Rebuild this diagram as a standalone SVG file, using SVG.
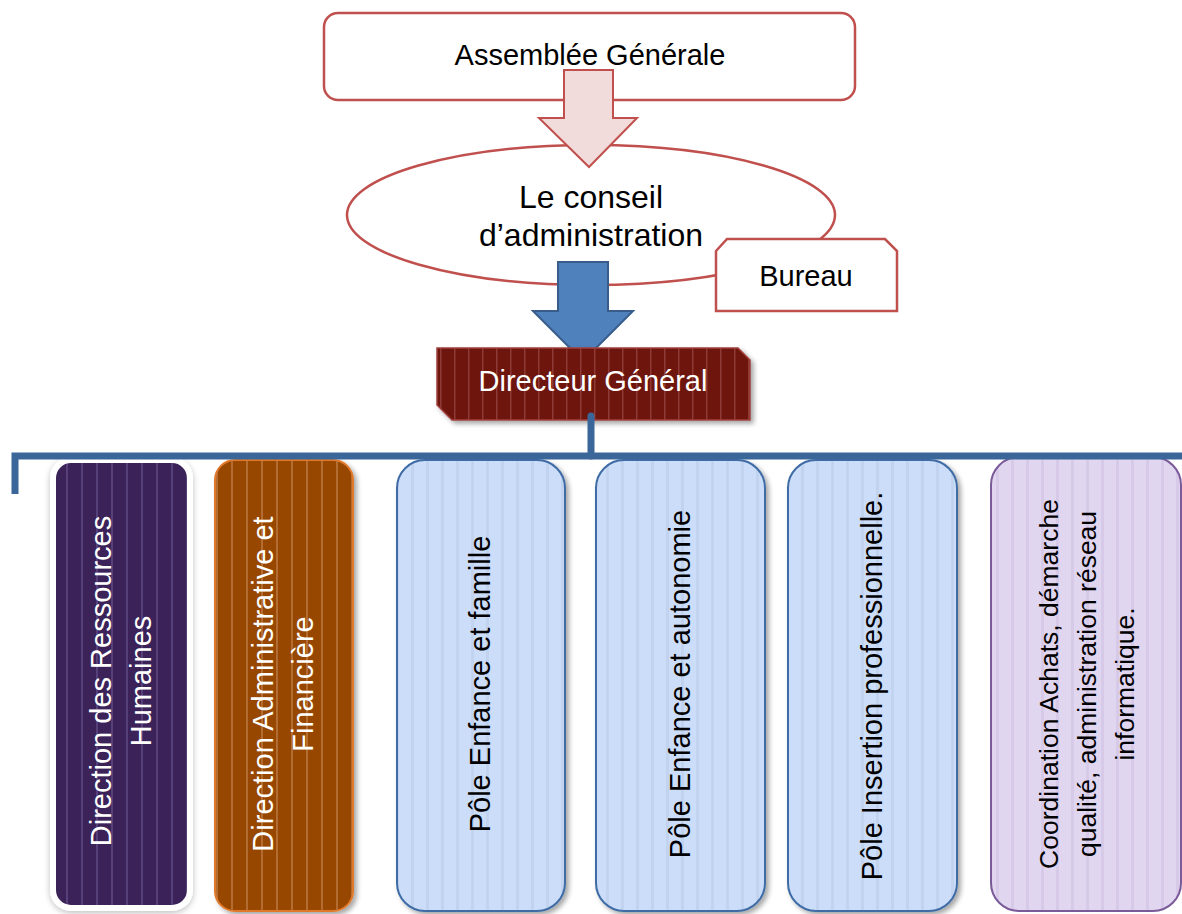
<svg xmlns="http://www.w3.org/2000/svg" width="1182" height="914" viewBox="0 0 1182 914">
<defs>
<style>
text{font-family:"Liberation Sans",Arial,sans-serif;}
.t29{font-size:29px;fill:#000;text-anchor:middle;}
.t26{font-size:26.5px;fill:#000;text-anchor:middle;}
.t32{font-size:32px;fill:#000;text-anchor:middle;}
.w29{font-size:29px;fill:#fff;text-anchor:middle;}
.red{fill:#fff;stroke:#C0504D;stroke-width:2.5;}
.blue{fill:url(#pBlue);stroke:#3F6CA6;stroke-width:2;}
.conn{fill:none;stroke:#3B6699;stroke-width:7;stroke-linejoin:miter;}
</style>
<pattern id="pBlue" patternUnits="userSpaceOnUse" width="15" height="20">
<rect width="15" height="20" fill="#CCDDF9"/><rect x="6" width="3" height="20" fill="#C2D3F0"/>
</pattern>
<pattern id="pLav" patternUnits="userSpaceOnUse" width="15" height="20">
<rect width="15" height="20" fill="#E0D6F0"/><rect x="6" width="3" height="20" fill="#D6CAE8"/>
</pattern>
<pattern id="pPur" patternUnits="userSpaceOnUse" width="15" height="20">
<rect width="15" height="20" fill="#3B2358"/><rect x="6" width="2" height="20" fill="#54407A"/>
</pattern>
<pattern id="pOra" patternUnits="userSpaceOnUse" width="15" height="20">
<rect width="15" height="20" fill="#974706"/><rect x="6" width="2" height="20" fill="#B36C33"/>
</pattern>
<pattern id="pRed" patternUnits="userSpaceOnUse" width="14" height="20">
<rect width="14" height="20" fill="#6E1310"/><rect x="6" width="1.5" height="20" fill="#8E3A37"/>
</pattern>
<filter id="sh" x="-10%" y="-10%" width="130%" height="130%">
<feDropShadow dx="3" dy="3" stdDeviation="2.5" flood-color="#000" flood-opacity="0.35"/>
</filter>
<filter id="glow" x="-15%" y="-10%" width="130%" height="120%">
<feDropShadow dx="0" dy="2" stdDeviation="3" flood-color="#000" flood-opacity="0.25"/>
</filter>
</defs>

<g id="assemblee">
<rect class="red" x="324" y="13" width="531" height="87" rx="14"/>
<text class="t29" x="590" y="65">Assemblée Générale</text>
</g>

<g id="conseil">
<ellipse class="red" cx="591" cy="215" rx="244" ry="70"/>
<text class="t32" x="591" y="208">Le conseil</text>
<text class="t32" x="591" y="246">d’administration</text>
</g>

<g id="bureau">
<path class="red" d="M716,251 L727,239 H885 L897,251 V311 H716 Z"/>
<text class="t29" x="806" y="286">Bureau</text>
</g>

<g id="arrows">
<path d="M564,70 H613 V118 H637 L589,167 L539,118 H564 Z" fill="#F2DCDB" stroke="#C0504D" stroke-width="2"/>
<path d="M558,262 H608 V311 H633 L583,361 L533,311 H558 Z" fill="#4F81BD" stroke="#385D8A" stroke-width="2"/>
</g>

<g id="directeur">
<path d="M437,348 H738 L750,360 V420 H452 L437,405 Z" fill="url(#pRed)" stroke="#A0403D" stroke-width="1.5" filter="url(#sh)"/>
<text class="w29" x="593" y="391">Directeur Général</text>
</g>

<g id="drh">
<rect x="53" y="460" width="137" height="448" rx="18" fill="url(#pPur)" stroke="#fff" stroke-width="6" filter="url(#glow)"/>
<text class="w29" transform="translate(111,681) rotate(-90)"><tspan x="0" y="0">Direction des Ressources</tspan><tspan x="0" y="40">Humaines</tspan></text>
</g>

<g id="daf">
<rect x="215" y="460" width="138" height="451" rx="20" fill="url(#pOra)" stroke="#E07A2C" stroke-width="2" filter="url(#sh)"/>
<text class="w29" transform="translate(273,684) rotate(-90)"><tspan x="0" y="0">Direction Administrative et</tspan><tspan x="0" y="40">Financière</tspan></text>
</g>

<g id="pole-famille">
<rect class="blue" x="397" y="460" width="168" height="451" rx="28" filter="url(#sh)"/>
<text class="t29" transform="translate(490,684) rotate(-90)">Pôle Enfance et famille</text>
</g>

<g id="pole-autonomie">
<rect class="blue" x="596" y="460" width="169" height="451" rx="28" filter="url(#sh)"/>
<text class="t29" transform="translate(690,684) rotate(-90)">Pôle Enfance et autonomie</text>
</g>

<g id="pole-insertion">
<rect class="blue" x="788" y="460" width="169" height="451" rx="28" filter="url(#sh)"/>
<text class="t29" transform="translate(882,686) rotate(-90)">Pôle Insertion professionnelle.</text>
</g>

<g id="coordination">
<rect x="991" y="457" width="190" height="454" rx="28" fill="url(#pLav)" stroke="#7A5A98" stroke-width="2"/>
<text class="t26" transform="translate(1058,684) rotate(-90)"><tspan x="0" y="0">Coordination Achats, démarche</tspan><tspan x="0" y="38">qualité, administration réseau</tspan><tspan x="0" y="76">informatique.</tspan></text>
</g>

<g id="connectors">
<path class="conn" d="M591,416 V456" stroke-linecap="round"/>
<path class="conn" d="M15,494 V456 H1182"/>
</g>
</svg>
